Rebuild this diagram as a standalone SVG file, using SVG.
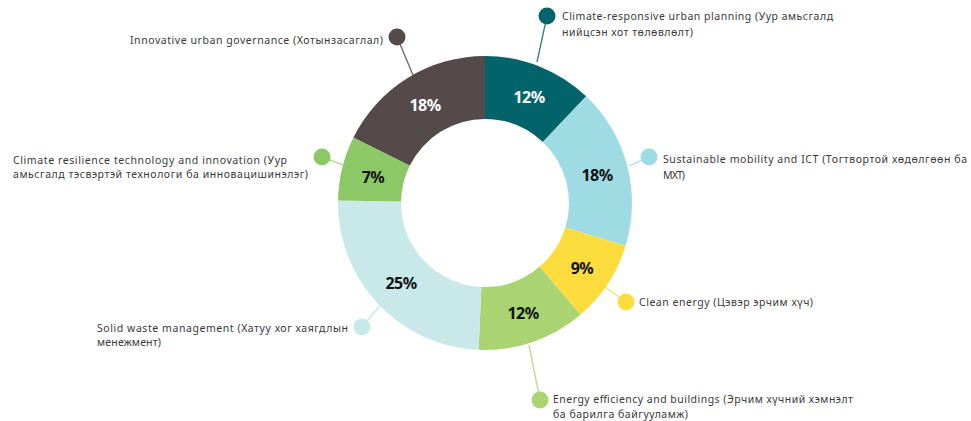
<svg xmlns="http://www.w3.org/2000/svg" width="971" height="421" viewBox="0 0 971 421">
<style>
.lbl{font-family:"Noto Sans","Liberation Sans",sans-serif;font-size:10.5px;fill:#3a3838;lengthAdjust:spacingAndGlyphs}
.pct{font-family:"Noto Sans","Liberation Sans",sans-serif;font-size:16px;font-weight:700;text-anchor:middle;letter-spacing:-0.5px}
.w{fill:#ffffff}.b{fill:#111111}
.ld{fill:none;stroke-width:1.3}
</style>
<rect width="971" height="421" fill="#ffffff"/>
<g id="connectors">
<line class="ld" x1="397" y1="37" x2="413" y2="75" stroke="#6b6363"/>
<line class="ld" x1="547" y1="16" x2="537" y2="62" stroke="#2f7d84"/>
<line class="ld" x1="649" y1="157" x2="629" y2="166" stroke="#a9dde4"/>
<line class="ld" x1="626" y1="302" x2="605" y2="287" stroke="#f3df70"/>
<line class="ld" x1="540" y1="400" x2="529" y2="345" stroke="#b5da8a"/>
<line class="ld" x1="362" y1="327" x2="382" y2="303" stroke="#c8e6e9"/>
<line class="ld" x1="322" y1="157" x2="343" y2="165" stroke="#9ed27a"/>
</g>
<g id="climate-responsive">
<path d="M485,56 A147,147 0 0 1 586.19,96.37 L542.83,142.07 A84,84 0 0 0 485,119 Z" fill="#03636b"/>
<text class="pct w" x="529" y="103">12%</text>
<circle cx="547" cy="16" r="8.5" fill="#03636b"/>
<text class="lbl" x="562" y="20" textLength="271">Climate-responsive urban planning (Уур амьсгалд</text>
<text class="lbl" x="562" y="36" textLength="131">нийцсэн хот төлөвлөлт)</text>
</g>
<g id="sustainable-mobility">
<path d="M586.19,96.37 A147,147 0 0 1 625.58,245.98 L565.33,227.56 A84,84 0 0 0 542.83,142.07 Z" fill="#9fdbe3"/>
<text class="pct b" x="597" y="181">18%</text>
<circle cx="649" cy="157" r="8.5" fill="#9fdbe3"/>
<text class="lbl" x="663" y="163" textLength="304">Sustainable mobility and ICT (Тогтвортой хөдөлгөөн ба</text>
<text class="lbl" x="663" y="179" textLength="22">МХТ)</text>
</g>
<g id="clean-energy">
<path d="M625.58,245.98 A147,147 0 0 1 580.46,314.78 L539.55,266.87 A84,84 0 0 0 565.33,227.56 Z" fill="#fddd3e"/>
<text class="pct b" x="582" y="274">9%</text>
<circle cx="626" cy="302" r="8.5" fill="#fddd3e"/>
<text class="lbl" x="639" y="306" textLength="174">Clean energy (Цэвэр эрчим хүч)</text>
</g>
<g id="energy-efficiency">
<path d="M580.46,314.78 A147,147 0 0 1 478.59,349.86 L481.34,286.92 A84,84 0 0 0 539.55,266.87 Z" fill="#a9d471"/>
<text class="pct b" x="523" y="319">12%</text>
<circle cx="540" cy="400" r="8.5" fill="#a9d471"/>
<text class="lbl" x="553" y="403" textLength="300">Energy efficiency and buildings (Эрчим хүчний хэмнэлт</text>
<text class="lbl" x="553" y="418" textLength="135">ба барилга байгууламж)</text>
</g>
<g id="solid-waste">
<path d="M478.59,349.86 A147,147 0 0 1 338.02,200.43 L401.01,201.53 A84,84 0 0 0 481.34,286.92 Z" fill="#c8e8ea"/>
<text class="pct b" x="401" y="289">25%</text>
<circle cx="362" cy="327" r="8.5" fill="#c8e8ea"/>
<text class="lbl" x="97" y="332" textLength="251">Solid waste management (Хатуу хог хаягдлын</text>
<text class="lbl" x="97" y="346" textLength="64">менежмент)</text>
</g>
<g id="climate-resilience">
<path d="M338.02,200.43 A147,147 0 0 1 353.45,137.41 L409.83,165.52 A84,84 0 0 0 401.01,201.53 Z" fill="#8dc866"/>
<text class="pct b" x="373" y="183">7%</text>
<circle cx="322" cy="157" r="8.5" fill="#8dc866"/>
<text class="lbl" x="13" y="164" textLength="274">Climate resilience technology and innovation (Уур</text>
<text class="lbl" x="13" y="178" textLength="295">амьсгалд тэсвэртэй технологи ба инновацишинэлэг)</text>
</g>
<g id="innovative-governance">
<path d="M353.45,137.41 A147,147 0 0 1 485,56 L485,119 A84,84 0 0 0 409.83,165.52 Z" fill="#544a4a"/>
<text class="pct w" x="425" y="111">18%</text>
<circle cx="397" cy="37" r="8.5" fill="#544a4a"/>
<text class="lbl" x="130" y="44" textLength="253">Innovative urban governance (Хотынзасаглал)</text>
</g>
</svg>
